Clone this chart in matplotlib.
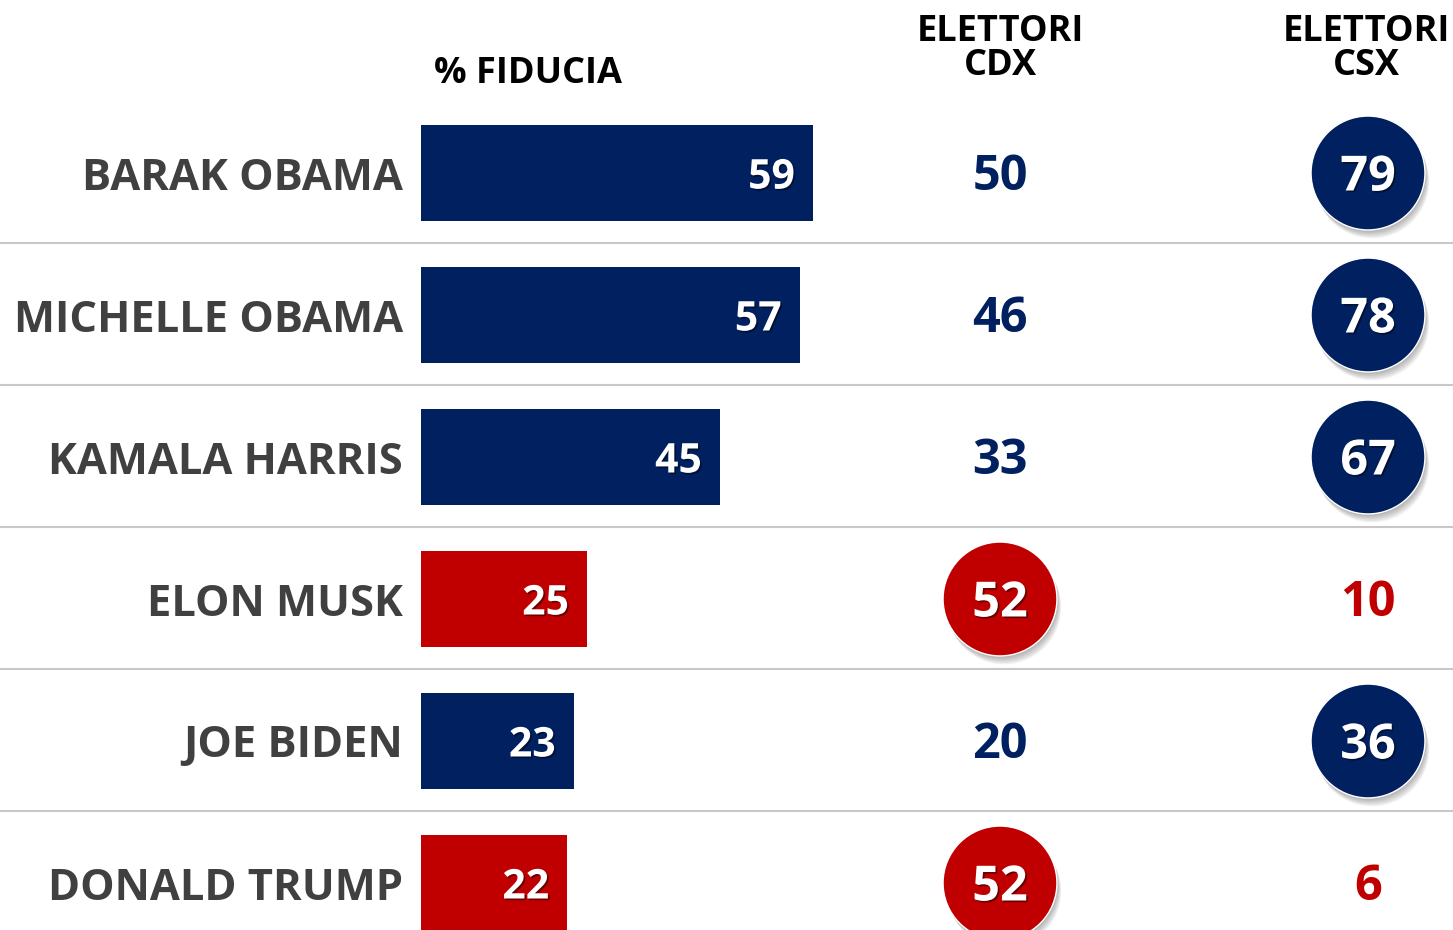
import matplotlib
matplotlib.use('Agg')
import matplotlib.pyplot as plt
import matplotlib.patheffects as pe

# Data
names = ['BARAK OBAMA', 'MICHELLE OBAMA', 'KAMALA HARRIS', 'ELON MUSK', 'JOE BIDEN', 'DONALD TRUMP']
fiducia = [59, 57, 45, 25, 23, 22]
cdx = [50, 46, 33, 52, 20, 52]
csx = [79, 78, 67, 10, 36, 6]
bar_side = ['csx', 'csx', 'csx', 'cdx', 'csx', 'cdx']   # colour of the bar

NAVY = '#002060'
RED = '#C00000'
GREY_TXT = '#404040'

plt.rcParams['font.family'] = ['Open Sans', 'DejaVu Sans']

fig = plt.figure(figsize=(14.53, 9.30), dpi=100)
ax = fig.add_axes([0, 0, 1, 1])
px = 6.645  # pixels per percentage point
ax.set_xlim(-421 / px, (1453 - 421) / px)
ax.set_ylim((930 - 173) / 142, -173 / 142)
ax.axis('off')

x_cdx = (1000 - 421) / px
x_csx = (1368 - 421) / px
dy = 5 / 142  # text sits slightly below the row centre

rows = list(range(len(names)))
colors = [NAVY if s == 'csx' else RED for s in bar_side]
ax.barh(rows, fiducia, height=0.67, color=colors, zorder=2)

# separators
for i in rows[:-1]:
    ax.axhline(i + 0.49, color='#c8c8c8', lw=1.5, zorder=1)

shadow_txt = [pe.withSimplePatchShadow(offset=(1.2, -1.2), shadow_rgbFace='black', alpha=0.45)]
shadow_dot = [pe.SimplePatchShadow(offset=(o * 0.5, -o), shadow_rgbFace='#333333', alpha=0.07)
              for o in (1, 2, 3, 4, 5, 6)] + [pe.Normal()]


def circle(x, i, val, col):
    ax.scatter([x], [i], s=82 ** 2, color=col, edgecolors='white', linewidths=1,
               zorder=3, path_effects=shadow_dot)
    ax.text(x, i + dy, str(val), ha='center', va='center', fontsize=35,
            fontweight='bold', color='white', zorder=4, path_effects=shadow_txt)


for i in rows:
    ax.annotate(names[i], (0, i + dy), xytext=(-13, 0), textcoords='offset points',
                ha='right', va='center', fontsize=31.3, fontweight='bold', color=GREY_TXT)
    ax.annotate(str(fiducia[i]), (fiducia[i], i + dy), xytext=(-13, 0), textcoords='offset points',
                ha='right', va='center', fontsize=29.5, fontweight='bold', color='white',
                path_effects=shadow_txt, zorder=3)

    # CDX column
    if cdx[i] > csx[i]:
        circle(x_cdx, i, cdx[i], RED)
    else:
        ax.text(x_cdx, i + dy, str(cdx[i]), ha='center', va='center', fontsize=35,
                fontweight='bold', color=NAVY, zorder=4)

    # CSX column
    if csx[i] > cdx[i]:
        circle(x_csx, i, csx[i], NAVY)
    else:
        ax.text(x_csx, i + dy, str(csx[i]), ha='center', va='center', fontsize=35,
                fontweight='bold', color=RED, zorder=4)

# headers
hdr = dict(fontsize=26, fontweight='bold', color='black', ha='center', va='center',
           family=['Liberation Sans Narrow', 'Open Sans', 'DejaVu Sans'])
ax.text((528 - 421) / px, (74 - 173) / 142, '% FIDUCIA', **hdr)
ax.text(x_cdx, (49 - 173) / 142, 'ELETTORI\nCDX', linespacing=0.95, **hdr)
ax.text((1366 - 421) / px, (49 - 173) / 142, 'ELETTORI\nCSX', linespacing=0.95, **hdr)

fig.savefig('out.png', dpi=100)
